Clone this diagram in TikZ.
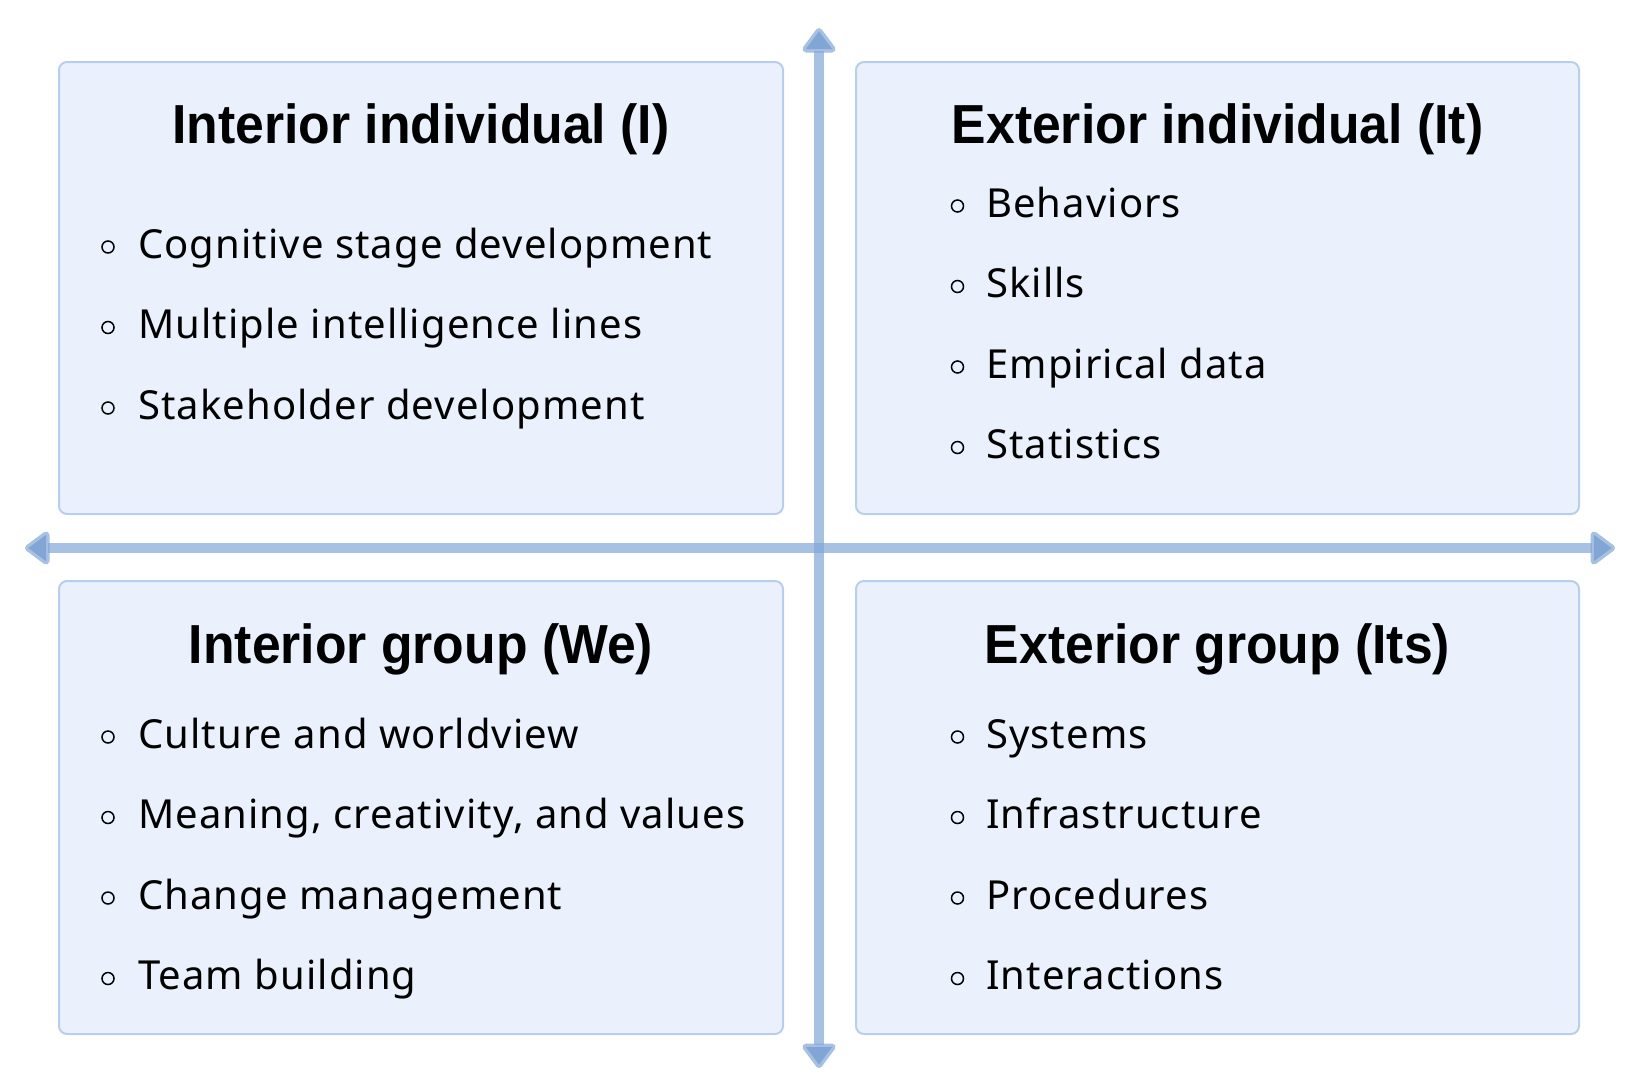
\documentclass[tikz,border=0pt]{standalone}
\usepackage{fontspec}
\setmainfont[LetterSpace=2.7]{Noto Sans}
\newfontfamily\headfont[FakeStretch=0.94]{Liberation Sans Bold}
\usetikzlibrary{arrows.meta}
\definecolor{boxfill}{RGB}{234,241,252}
\definecolor{boxline}{RGB}{184,206,236}
\definecolor{axisblue}{RGB}{129,166,214}
\tikzset{
  quad/.style={draw=boxline, fill=boxfill, line width=2pt, rounded corners=8pt,
    inner sep=0pt, outer sep=0pt, anchor=north west},
  title/.style={font=\fontsize{55}{66}\selectfont\headfont, inner sep=0pt, anchor=base},
  entry/.style={font=\fontsize{40}{48}\selectfont, inner sep=0pt, anchor=base west},
  dot/.style={circle, draw=black, line width=1.5pt, minimum size=12pt, inner sep=0pt},
  axis/.style={draw=axisblue, line width=10pt, draw opacity=0.7,
    {Triangle[width=38pt,length=27pt,round]}-{Triangle[width=38pt,length=27pt,round]}},
}
% one bullet line: name, bullet x, text x, baseline, text
\newcommand{\listline}[5]{%
  \node[dot] (#1b) at (#2,#4-11) {};
  \node[entry] (#1) at (#3,#4) {#5};
}
\begin{document}
\begin{tikzpicture}[x=1pt,y=-1pt]
\useasboundingbox (0,0) rectangle (1630,1080);

% the four quadrants
\node[quad, minimum width=724pt, minimum height=452pt] (tl) at (59,62) {};
\node[quad, minimum width=723pt, minimum height=452pt] (tr) at (856,62) {};
\node[quad, minimum width=724pt, minimum height=453pt] (bl) at (59,581) {};
\node[quad, minimum width=723pt, minimum height=453pt] (br) at (856,581) {};

% axes
\coordinate (up) at (819,28);
\coordinate (down) at (819,1068);
\coordinate (left) at (25,548);
\coordinate (right) at (1615,548);
\draw[axis] (up) -- (down);
\draw[axis] (left) -- (right);

% upper left
\node[title] (tlT) at (421,143) {Interior individual (I)};
\listline{tlA}{108}{138}{258}{Cognitive stage development}
\listline{tlB}{108}{138}{338.5}{Multiple intelligence lines}
\listline{tlC}{108}{138}{419}{Stakeholder development}

% upper right
\node[title] (trT) at (1217.5,143) {Exterior individual (It)};
\listline{trA}{957.5}{986}{217}{Behaviors}
\listline{trB}{957.5}{986}{297.5}{Skills}
\listline{trC}{957.5}{986}{378}{Empirical data}
\listline{trD}{957.5}{986}{458.5}{Statistics}

% lower left
\node[title] (blT) at (421,663) {Interior group (We)};
\listline{blA}{108}{138}{748}{Culture and worldview}
\listline{blB}{108}{138}{828.5}{Meaning, creativity, and values}
\listline{blC}{108}{138}{909}{Change management}
\listline{blD}{108}{138}{989.5}{Team building}

% lower right
\node[title] (brT) at (1217.5,663) {Exterior group (Its)};
\listline{brA}{957.5}{986}{748}{Systems}
\listline{brB}{957.5}{986}{828.5}{Infrastructure}
\listline{brC}{957.5}{986}{909}{Procedures}
\listline{brD}{957.5}{986}{989.5}{Interactions}
\end{tikzpicture}
\end{document}
